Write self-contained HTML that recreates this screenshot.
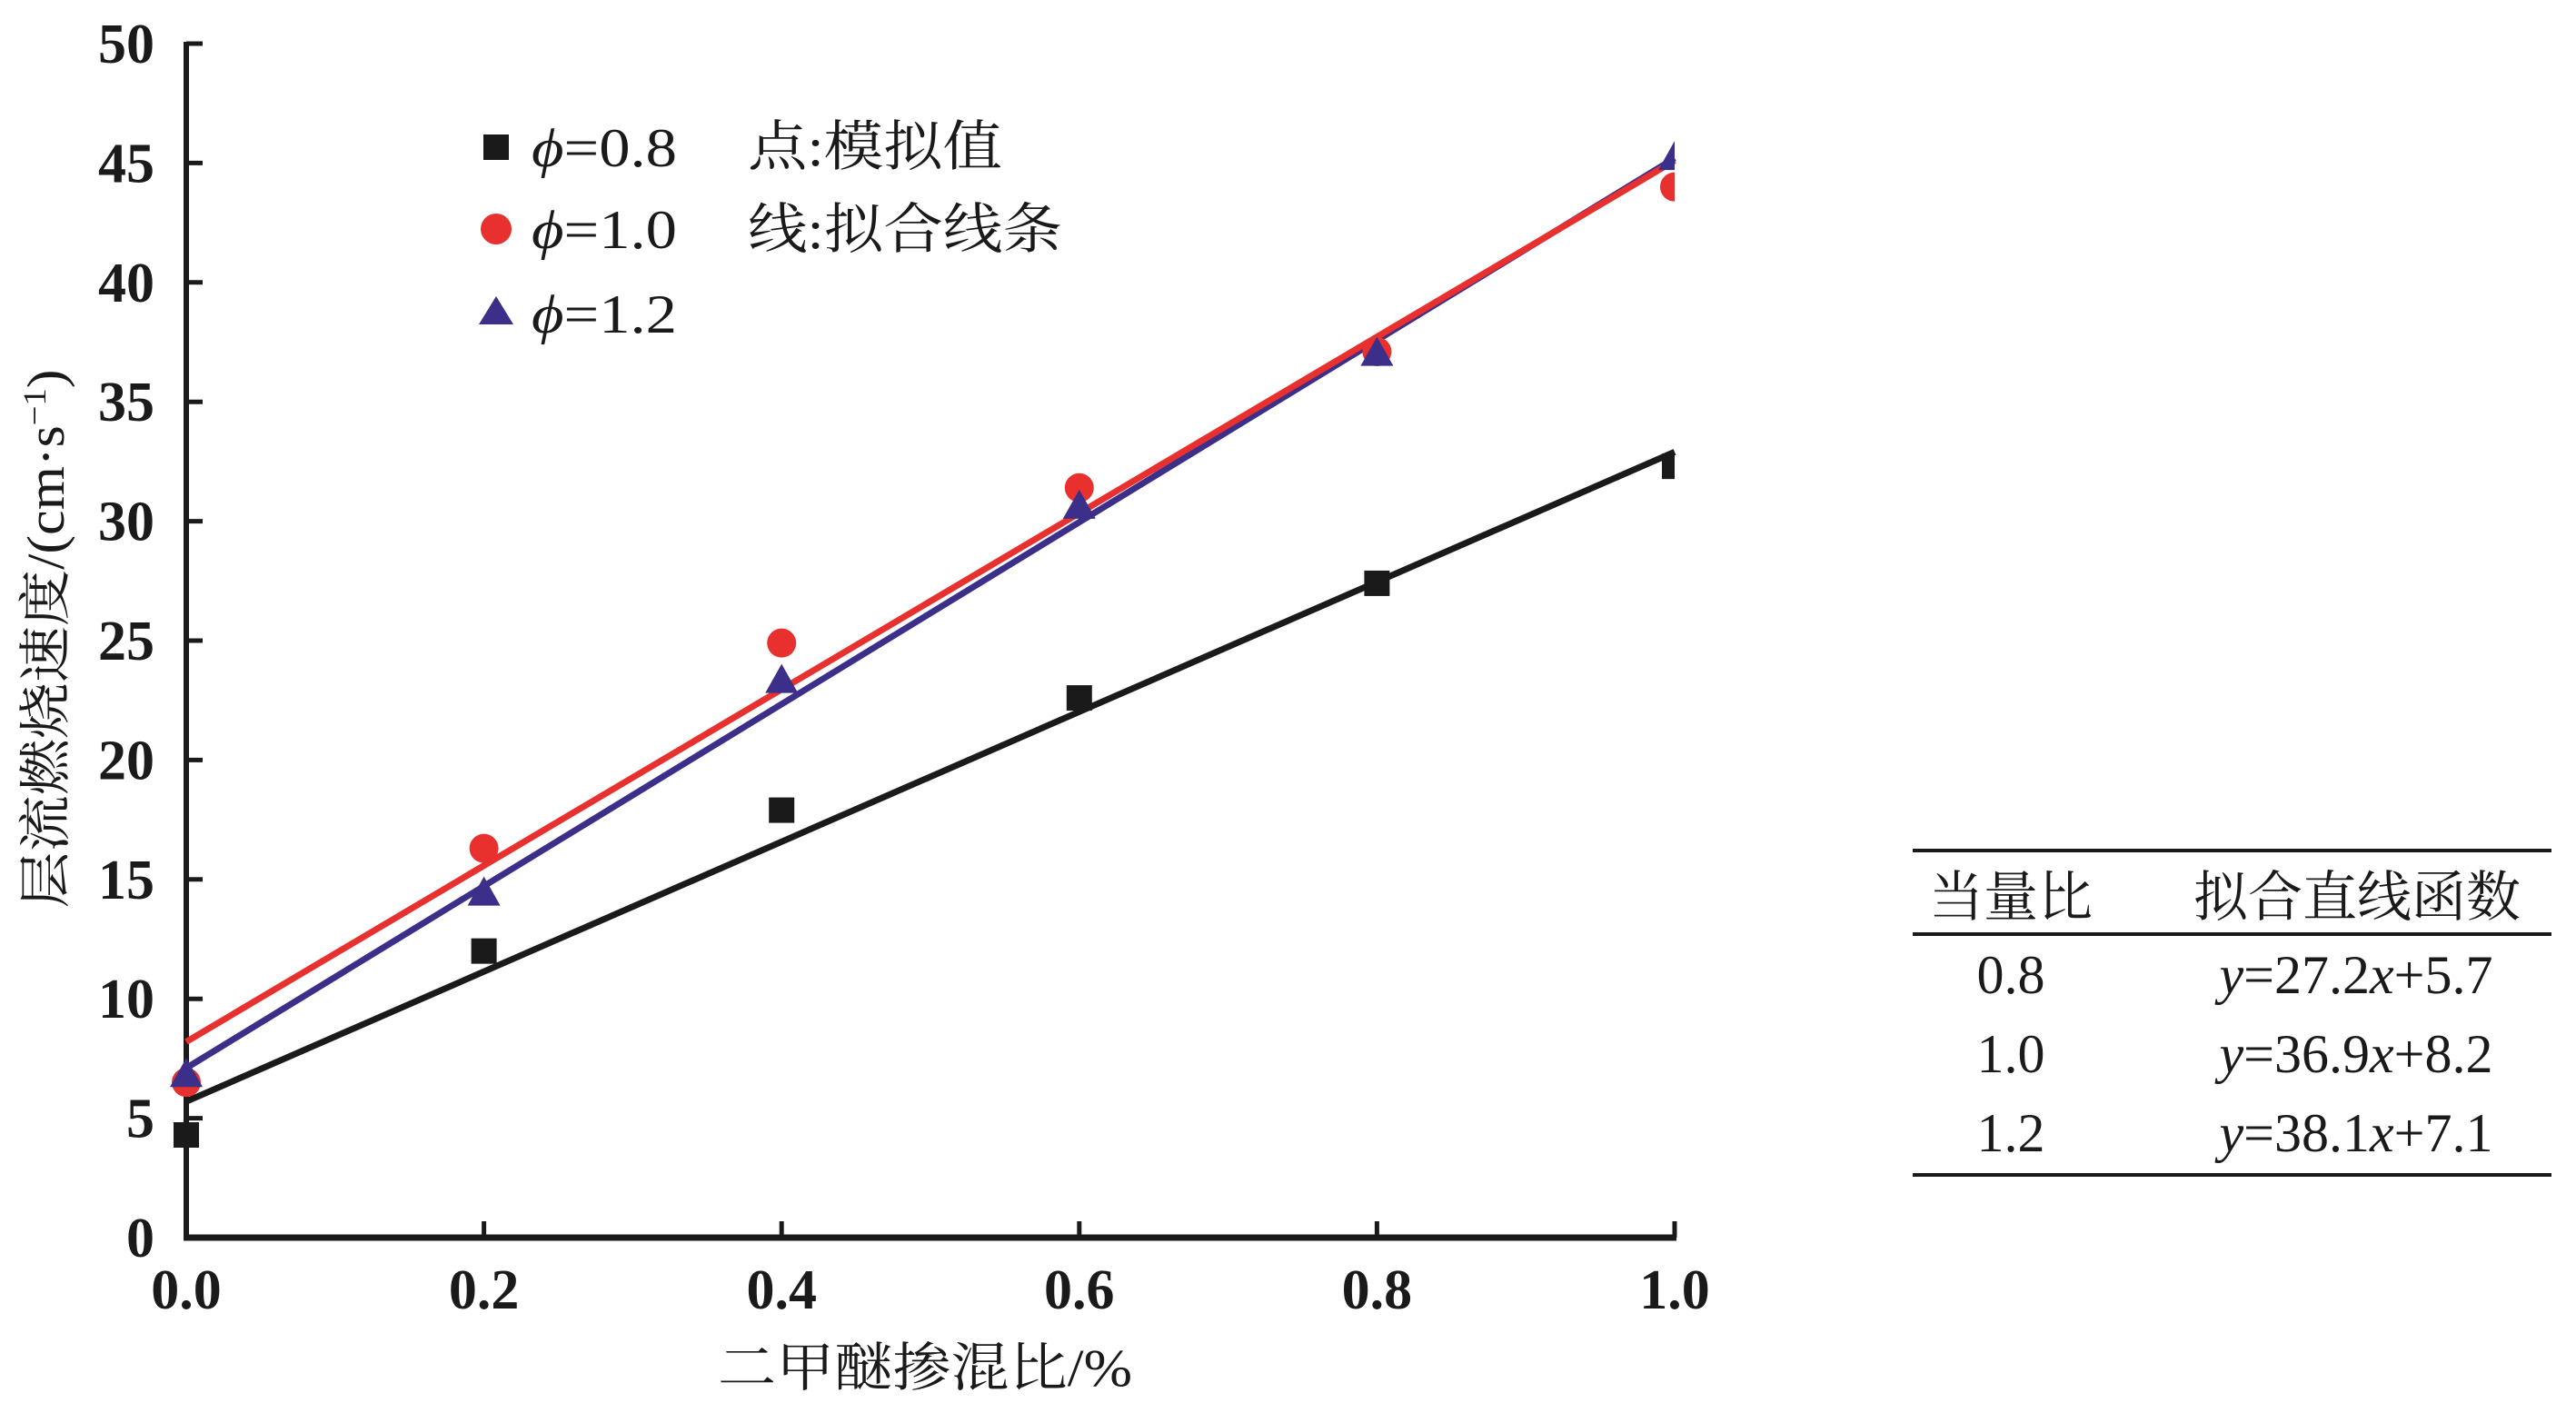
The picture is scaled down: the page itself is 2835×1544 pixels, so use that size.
<!DOCTYPE html>
<html><head><meta charset="utf-8"><style>
html,body{margin:0;padding:0;background:#fff;}
svg{display:block;}
text{font-family:"Liberation Serif","Noto Serif CJK SC","Noto Sans CJK SC",serif;fill:#1a1a1a;}
</style></head><body>
<svg id="chart" width="2835" height="1544" viewBox="0 0 2835 1544" xmlns="http://www.w3.org/2000/svg">
<g id="axes"></g>
<g id="lines"></g>
<g id="points"></g>
<g id="legend">
  <rect x="532" y="148" width="28" height="28" fill="#1a1a1a"/>
  <text x="585" y="183" font-size="60" textLength="160" lengthAdjust="spacingAndGlyphs"><tspan font-style="italic">ϕ</tspan>=0.8</text>
  <circle cx="546" cy="252" r="17" fill="#e8302f"/>
  <text x="585" y="273" font-size="60" textLength="160" lengthAdjust="spacingAndGlyphs"><tspan font-style="italic">ϕ</tspan>=1.0</text>
  <polygon points="546,326 565,357 527,357" fill="#3b2f8a"/>
  <text x="585" y="366" font-size="60" textLength="160" lengthAdjust="spacingAndGlyphs"><tspan font-style="italic">ϕ</tspan>=1.2</text>
  <text x="823" y="182" font-size="60" textLength="280" lengthAdjust="spacingAndGlyphs">点:模拟值</text>
  <text x="823" y="273" font-size="60" textLength="346" lengthAdjust="spacingAndGlyphs">线:拟合线条</text>
</g>
<g id="table">
  <line x1="2105" y1="936" x2="2808" y2="936" stroke="#1a1a1a" stroke-width="4"/>
  <line x1="2105" y1="1028" x2="2808" y2="1028" stroke="#1a1a1a" stroke-width="4"/>
  <line x1="2105" y1="1293" x2="2808" y2="1293" stroke="#1a1a1a" stroke-width="4"/>
  <text x="2213" y="1008" font-size="60" text-anchor="middle">当量比</text>
  <text x="2594" y="1008" font-size="60" text-anchor="middle">拟合直线函数</text>
  <text x="2213" y="1093" font-size="60" text-anchor="middle">0.8</text>
  <text x="2213" y="1180" font-size="60" text-anchor="middle">1.0</text>
  <text x="2213" y="1267" font-size="60" text-anchor="middle">1.2</text>
  <text x="2593" y="1093" font-size="60" text-anchor="middle"><tspan font-style="italic">y</tspan>=27.2<tspan font-style="italic">x</tspan>+5.7</text>
  <text x="2593" y="1180" font-size="60" text-anchor="middle"><tspan font-style="italic">y</tspan>=36.9<tspan font-style="italic">x</tspan>+8.2</text>
  <text x="2593" y="1267" font-size="60" text-anchor="middle"><tspan font-style="italic">y</tspan>=38.1<tspan font-style="italic">x</tspan>+7.1</text>
</g>
<text x="1018" y="1525" font-size="58" text-anchor="middle" textLength="456" lengthAdjust="spacingAndGlyphs">二甲醚掺混比/%</text>
<text transform="translate(70,703) rotate(-90)" x="0" y="0" font-size="58" text-anchor="middle" textLength="593" lengthAdjust="spacingAndGlyphs">层流燃烧速度/(cm·s<tspan font-size="36" dy="-20">−1</tspan><tspan dy="20">)</tspan></text>
</svg>
<script>
const xCategories = [0, 0.2, 0.4, 0.6, 0.8, 1.0];
const xTickLabels = ["0.0", "0.2", "0.4", "0.6", "0.8", "1.0"];
const yTicks = [0, 5, 10, 15, 20, 25, 30, 35, 40, 45, 50];
const seriesPhi08 = [4.3, 12.0, 17.9, 22.6, 27.4, 32.3];
const seriesPhi10 = [6.5, 16.3, 24.9, 31.4, 37.1, 44.0];
const seriesPhi12 = [6.8, 14.4, 23.3, 30.6, 37.0, 45.2];
const fitSlopes = [27.2, 36.9, 38.1];
const fitIntercepts = [5.7, 8.2, 7.1];

const NS = "http://www.w3.org/2000/svg";
const X0 = 205, X1 = 1843, Y0 = 1362, Y1 = 48;
const xs = v => X0 + (v - 0) / (1 - 0) * (X1 - X0);
const ys = v => Y0 - (v - 0) / (50 - 0) * (Y0 - Y1);
function mk(tag, attrs, parent) {
  const e = document.createElementNS(NS, tag);
  for (const k in attrs) e.setAttribute(k, attrs[k]);
  parent.appendChild(e);
  return e;
}
const axes = document.getElementById('axes');
const yAxis = mk('line', {x1: X0, y1: Y1 - 2, x2: X0, y2: Y0 + 3, stroke: '#1a1a1a', 'stroke-width': 6}, axes);


const xAxis = mk('line', {x1: X0 - 3, y1: Y0, x2: X1 + 2, y2: Y0, stroke: '#1a1a1a', 'stroke-width': 7}, axes);


yTicks.forEach(v => {
  const t = mk('line', {x1: X0, y1: ys(v), x2: X0 + 18, y2: ys(v), stroke: '#1a1a1a', 'stroke-width': 5}, axes);
  
  
  const l = mk('text', {x: 170, y: ys(v) + 21, 'font-size': 62, 'text-anchor': 'end', 'font-weight': 'bold'}, axes);
  
  
  l.textContent = String(v);
});
xCategories.forEach((v, i) => {
  if (v > 0) {
    const t = mk('line', {x1: xs(v), y1: Y0, x2: xs(v), y2: Y0 - 18, stroke: '#1a1a1a', 'stroke-width': 5}, axes);
    
    
  }
  const l = mk('text', {x: xs(v), y: 1440, 'font-size': 62, 'text-anchor': 'middle', 'font-weight': 'bold'}, axes);
  
  
  l.textContent = xTickLabels[i];
});
const colors = ['#1a1a1a', '#e8302f', '#3b2f8a'];
const lines = document.getElementById('lines');
const fitOrder = [0, 2, 1];
fitOrder.forEach(i => {
  const ln = mk('line', {x1: xs(0), y1: ys(fitIntercepts[i]), x2: xs(1), y2: ys(fitSlopes[i] + fitIntercepts[i]), stroke: colors[i], 'stroke-width': 7}, lines);
  
  
});
const pts = document.getElementById('points');
const clip = mk('clipPath', {id: 'plotclip'}, document.getElementById('chart'));
mk('rect', {x: X0 - 20, y: 0, width: X1 - X0 + 20, height: Y0 + 10}, clip);
pts.setAttribute('clip-path', 'url(#plotclip)');
xCategories.forEach((v, i) => {
  const s = mk('rect', {x: xs(v) - 14, y: ys(seriesPhi08[i]) - 14, width: 28, height: 28, fill: colors[0]}, pts);
  
  
  const c = mk('circle', {cx: xs(v), cy: ys(seriesPhi10[i]), r: 16, fill: colors[1]}, pts);
  
  
  const x = xs(v), y = ys(seriesPhi12[i]);
  const tr = mk('polygon', {points: `${x},${y - 19} ${x + 18},${y + 13} ${x - 18},${y + 13}`, fill: colors[2]}, pts);
  
  
});
</script>
</body></html>
